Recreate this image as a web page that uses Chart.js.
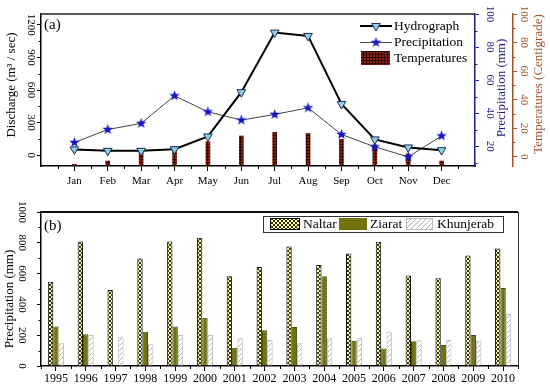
<!DOCTYPE html>
<html>
<head>
<meta charset="utf-8">
<script src="https://cdn.jsdelivr.net/npm/chart.js@4.4.0/dist/chart.umd.min.js"></script>
<style>
	html, body { margin: 0; padding: 0; background: #fff; }
	#painelA { position: absolute; left: 0; top: 0; }
	#painelB { position: absolute; left: 0; top: 195px; }
</style>
</head>
<body>
<canvas id="painelA" width="550" height="195"></canvas>
<canvas id="painelB" width="550" height="193"></canvas>
<script>
// panel (a): monthly values
var months = ['Jan', 'Feb', 'Mar', 'Apr', 'May', 'Jun', 'Jul', 'Aug', 'Sep', 'Oct', 'Nov', 'Dec'];
var hydrograph = [53, 40, 40, 55, 172, 580, 1129, 1098, 471, 145, 71, 46];
var precipitation = [22.2, 30.1, 33.8, 50.5, 40.8, 35.8, 39.2, 43.2, 27.1, 19.6, 13.5, 26.2];
var temperatures = [-5.3, -3, 3.5, 7, 10.5, 14.5, 17, 16.3, 12.2, 8.2, 1.9, -3];
var dischargeTicks = [0, 300, 600, 900, 1200];
var precipTicks = [20, 40, 60, 80, 100];
var tempTicks = [0, 20, 40, 60, 80, 100];

// panel (b): yearly precipitation
var years = ['1995', '1996', '1997', '1998', '1999', '2000', '2001', '2002',
	'2003', '2004', '2005', '2006', '2007', '2008', '2009', '2010'];
var naltar = [547, 809, 494, 698, 809, 833, 582, 643, 776, 656, 730, 807, 588, 570, 717, 763];
var ziarat = [256, 206, 0, 223, 256, 313, 118, 232, 254, 582, 164, 114, 161, 136, 201, 506];
var khunjerab = [147, 201, 190, 142, 201, 201, 180, 169, 147, 180, 180, 222, 167, 169, 164, 338];
var yearlyTicks = [0, 200, 400, 600, 800, 1000];

var serif = '"Liberation Serif", "Times New Roman", serif';
var navy = '#1d1d86';
var sienna = '#a0522d';

function tile(size, paint) {
	var c = document.createElement('canvas');
	c.width = size;
	c.height = size;
	paint(c.getContext('2d'));
	return document.createElement('canvas').getContext('2d').createPattern(c, 'repeat');
}

var naltarFill = tile(4, function(g) {
	g.fillStyle = '#fbf7a0';
	g.fillRect(0, 0, 4, 4);
	g.fillStyle = '#33331a';
	for (var i = 0; i < 4; i++) {
		g.fillRect(i, i, 1, 1);
		g.fillRect(3 - i, i, 1, 1);
	}
});
var khunjerabFill = tile(5, function(g) {
	g.fillStyle = '#fff';
	g.fillRect(0, 0, 5, 5);
	g.fillStyle = '#b4b4b4';
	for (var i = 0; i < 5; i++) g.fillRect(4 - i, i, 1, 1);
});
var tempFill = tile(3, function(g) {
	g.fillStyle = '#8e2210';
	g.fillRect(0, 0, 3, 3);
	g.fillStyle = '#2e0904';
	g.fillRect(0, 0, 3, 1);
	g.fillRect(0, 0, 1, 3);
});

function star(r, color) {
	var c = document.createElement('canvas');
	c.width = c.height = Math.ceil(2 * r + 2);
	var g = c.getContext('2d');
	g.beginPath();
	for (var k = 0; k < 10; k++) {
		var a = -Math.PI / 2 + k * Math.PI / 5;
		var rr = k % 2 === 0 ? r : r * 0.42;
		g.lineTo(c.width / 2 + rr * Math.cos(a), c.height / 2 + rr * Math.sin(a));
	}
	g.closePath();
	g.fillStyle = color;
	g.fill();
	return c;
}
var starPoint = star(5.5, '#1616c8');

function pairs(list) {
	return list.map(function(v, i) { return { x: i + 1, y: v }; });
}

function fixTicks(list) {
	return function(axis) {
		axis.ticks = list.map(function(v) { return { value: v }; });
	};
}

function minorTicks(ctx, axis, values, len, color) {
	ctx.save();
	ctx.strokeStyle = color;
	ctx.lineWidth = 1;
	ctx.beginPath();
	values.forEach(function(v) {
		var p = Math.round(axis.getPixelForValue(v)) + 0.5;
		if (axis.isHorizontal()) {
			ctx.moveTo(p, axis.top);
			ctx.lineTo(p, axis.top + len);
		} else if (axis.position === 'left') {
			ctx.moveTo(axis.right, p);
			ctx.lineTo(axis.right - len, p);
		} else {
			ctx.moveTo(axis.left, p);
			ctx.lineTo(axis.left + len, p);
		}
	});
	ctx.stroke();
	ctx.restore();
}

function midpoints(list) {
	var out = [];
	for (var i = 0; i < list.length - 1; i++) out.push((list[i] + list[i + 1]) / 2);
	return out;
}

function vText(ctx, text, x, y, size, color) {
	ctx.save();
	ctx.translate(x, y);
	ctx.rotate(-Math.PI / 2);
	ctx.font = size + 'px ' + serif;
	ctx.fillStyle = color;
	ctx.textAlign = 'center';
	ctx.textBaseline = 'middle';
	ctx.fillText(text, 0, 0);
	ctx.restore();
}

function hText(ctx, text, x, y, size) {
	ctx.save();
	ctx.font = size + 'px ' + serif;
	ctx.fillStyle = '#000';
	ctx.textAlign = 'left';
	ctx.textBaseline = 'middle';
	ctx.fillText(text, x, y);
	ctx.restore();
}

function yAxis(pos, min, max, list, color, pad, width, weight) {
	return {
		position: pos,
		weight: weight || 0,
		min: min,
		max: max,
		afterBuildTicks: fixTicks(list),
		afterFit: function(e) { e.width = width; },
		ticks: {
			minRotation: -90,
			crossAlign: 'center',
			padding: pad,
			color: color,
			font: { family: serif, size: 11 },
			callback: function(v) { return String(v); }
		},
		grid: { drawOnChartArea: false, color: color, tickLength: 4 },
		border: { color: color, width: 1.5 }
	};
}

var extrasA = {
	id: 'extrasA',
	afterDraw: function(chart) {
		var ctx = chart.ctx;
		var a = chart.chartArea;
		var s = chart.scales;
		ctx.save();
		ctx.strokeStyle = '#222';
		ctx.lineWidth = 1.5;
		ctx.beginPath();
		ctx.moveTo(a.left, a.top);
		ctx.lineTo(a.right, a.top);
		ctx.stroke();
		ctx.restore();

		minorTicks(ctx, s.x, [0.5, 1.5, 2.5, 3.5, 4.5, 5.5, 6.5, 7.5, 8.5, 9.5, 10.5, 11.5, 12.5], 3, '#000');
		minorTicks(ctx, s.yDischarge, midpoints(dischargeTicks), 2.5, '#000');
		minorTicks(ctx, s.yPrecip, midpoints(precipTicks).concat([10]), 2.5, navy);
		minorTicks(ctx, s.yTemp, midpoints(tempTicks), 2.5, sienna);

		vText(ctx, 'Discharge (m\u00b3 / sec)', 12, 85, 13, '#000');
		vText(ctx, 'Precipitation (mm)', 502, 88, 13, navy);
		vText(ctx, 'Temperatures (Centigrade)', 539, 84, 13, sienna);
		hText(ctx, '(a)', 44, 25, 15);

		// legend
		ctx.save();
		ctx.strokeStyle = '#000';
		ctx.lineWidth = 2;
		ctx.beginPath();
		ctx.moveTo(360, 26);
		ctx.lineTo(392, 26);
		ctx.stroke();
		ctx.strokeStyle = '#444';
		ctx.lineWidth = 1;
		ctx.beginPath();
		ctx.moveTo(360, 42.5);
		ctx.lineTo(392, 42.5);
		ctx.stroke();
		ctx.translate(376, 26);
		ctx.beginPath();
		ctx.moveTo(-4.3, -2.5);
		ctx.lineTo(4.3, -2.5);
		ctx.lineTo(0, 5);
		ctx.closePath();
		ctx.fillStyle = '#8ecfe8';
		ctx.fill();
		ctx.strokeStyle = '#1e2e5a';
		ctx.stroke();
		ctx.restore();
		ctx.drawImage(starPoint, 376 - starPoint.width / 2, 42.5 - starPoint.height / 2);
		ctx.save();
		ctx.fillStyle = tempFill;
		ctx.fillRect(361, 51, 29, 14);
		ctx.restore();
		hText(ctx, 'Hydrograph', 394, 26, 13.5);
		hText(ctx, 'Precipitation', 394, 42.5, 13.5);
		hText(ctx, 'Temperatures', 394, 58.5, 13.5);
	}
};

new Chart(document.getElementById('painelA').getContext('2d'), {
	type: 'bar',
	data: {
		datasets: [{
			type: 'line',
			label: 'Hydrograph',
			data: pairs(hydrograph),
			yAxisID: 'yDischarge',
			borderColor: '#000',
			borderWidth: 2,
			pointStyle: 'triangle',
			pointRotation: 180,
			pointRadius: 5,
			pointBackgroundColor: '#8ecfe8',
			pointBorderColor: '#1e2e5a',
			pointBorderWidth: 1,
			order: 1
		}, {
			type: 'line',
			label: 'Precipitation',
			data: pairs(precipitation),
			yAxisID: 'yPrecip',
			borderColor: '#444',
			borderWidth: 1,
			pointStyle: starPoint,
			order: 2
		}, {
			type: 'bar',
			label: 'Temperatures',
			data: pairs(temperatures),
			yAxisID: 'yTemp',
			backgroundColor: tempFill,
			barThickness: 4,
			base: -6.5,
			order: 3
		}]
	},
	options: {
		responsive: false,
		animation: false,
		layout: { padding: { top: 14, right: 0, left: 0, bottom: 0 } },
		plugins: { legend: { display: false }, tooltip: { enabled: false } },
		scales: {
			x: {
				type: 'linear',
				offset: false,
				min: 0,
				max: 13,
				afterBuildTicks: function(axis) {
					axis.ticks = months.map(function(m, i) { return { value: i + 1 }; });
				},
				afterFit: function(e) { e.height = 29; },
				ticks: {
					callback: function(v) { return months[v - 1] || ''; },
					autoSkip: false,
					maxRotation: 0,
					padding: 4,
					color: '#000',
					font: { family: serif, size: 11 }
				},
				grid: { drawOnChartArea: false, offset: false, color: '#000', tickLength: 5 },
				border: { color: '#000', width: 1.5 }
			},
			yDischarge: yAxis('left', -100, 1300, dischargeTicks, '#000', -4.5, 41),
			yPrecip: yAxis('right', 8, 100, precipTicks, navy, 3, 38, 1),
			yTemp: yAxis('right', -6.5, 100, tempTicks, sienna, -1, 37, 2)
		}
	},
	plugins: [extrasA]
});

var extrasB = {
	id: 'extrasB',
	afterDraw: function(chart) {
		var ctx = chart.ctx;
		var a = chart.chartArea;
		var s = chart.scales;
		ctx.save();
		ctx.strokeStyle = '#111';
		ctx.lineWidth = 2;
		ctx.beginPath();
		ctx.moveTo(a.left, a.top);
		ctx.lineTo(a.right, a.top);
		ctx.stroke();
		ctx.strokeStyle = '#333';
		ctx.lineWidth = 1;
		ctx.beginPath();
		ctx.moveTo(a.right + 0.5, a.top);
		ctx.lineTo(a.right + 0.5, a.bottom);
		ctx.stroke();
		ctx.restore();

		var bounds = years.map(function(y, i) { return i - 0.5; }).concat([years.length - 0.5]);
		minorTicks(ctx, s.x, bounds, 3, '#000');
		minorTicks(ctx, s.y, midpoints(yearlyTicks), 2.5, '#000');

		vText(ctx, 'Precipitation (mm)', 10, 104, 13, '#000');
		hText(ctx, '(b)', 44, 31, 15);

		// legend
		ctx.save();
		ctx.fillStyle = '#fff';
		ctx.fillRect(263.5, 21.5, 240, 16);
		ctx.strokeStyle = '#333';
		ctx.lineWidth = 1;
		ctx.strokeRect(263.5, 21.5, 240, 16);
		ctx.fillStyle = naltarFill;
		ctx.fillRect(270, 23, 30, 12);
		ctx.strokeStyle = '#000';
		ctx.strokeRect(270.5, 23.5, 29, 11);
		ctx.fillStyle = '#72720f';
		ctx.fillRect(339, 23, 28, 12);
		ctx.fillStyle = khunjerabFill;
		ctx.fillRect(406, 23, 27, 12);
		ctx.strokeStyle = '#bbb';
		ctx.strokeRect(406.5, 23.5, 26, 11);
		ctx.restore();
		hText(ctx, 'Naltar', 303, 29.5, 13.5);
		hText(ctx, 'Ziarat', 370, 29.5, 13.5);
		hText(ctx, 'Khunjerab', 437, 29.5, 13.5);
	}
};

new Chart(document.getElementById('painelB').getContext('2d'), {
	type: 'bar',
	data: {
		labels: years,
		datasets: [{
			label: 'Naltar',
			data: naltar,
			backgroundColor: naltarFill,
			borderColor: '#111',
			borderWidth: 1
		}, {
			label: 'Ziarat',
			data: ziarat,
			backgroundColor: '#72720f',
			borderColor: '#4a4a08',
			borderWidth: 1
		}, {
			label: 'Khunjerab',
			data: khunjerab,
			backgroundColor: khunjerabFill,
			borderColor: '#bdbdbd',
			borderWidth: 1
		}]
	},
	options: {
		responsive: false,
		animation: false,
		layout: { padding: { top: 17, right: 32, left: 0, bottom: 0 } },
		plugins: { legend: { display: false }, tooltip: { enabled: false } },
		datasets: { bar: { categoryPercentage: 0.54, barPercentage: 1 } },
		scales: {
			x: {
				afterFit: function(e) { e.height = 22; },
				ticks: {
					autoSkip: false,
					maxRotation: 0,
					padding: 1,
					color: '#000',
					font: { family: serif, size: 12 }
				},
				grid: { drawOnChartArea: false, offset: false, color: '#000', tickLength: 5 },
				border: { color: '#000', width: 1.5 }
			},
			y: yAxis('left', 0, 1000, yearlyTicks, '#000', 4, 41)
		}
	},
	plugins: [extrasB]
});
</script>
</body>
</html>
